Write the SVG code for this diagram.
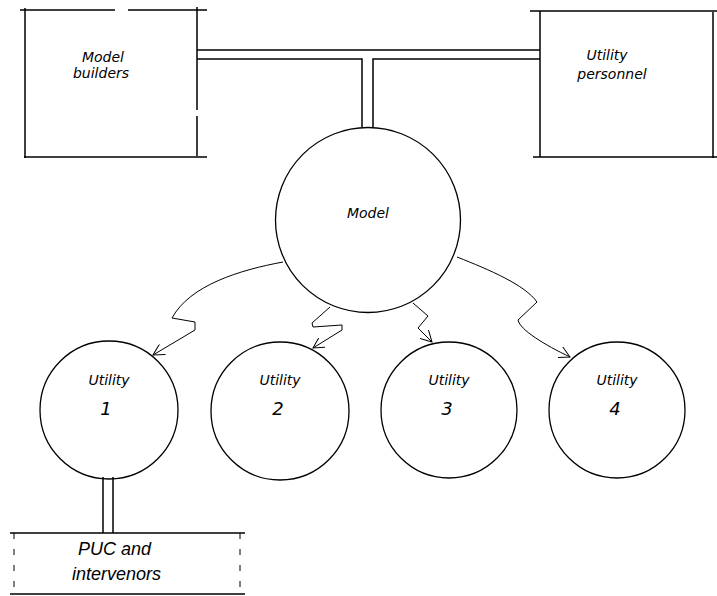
<svg xmlns="http://www.w3.org/2000/svg" width="717" height="596" viewBox="0 0 717 596">
<style>
.ln{fill:none;stroke:#000;stroke-width:1.5}
.cir{fill:none;stroke:#000;stroke-width:1.3}
.thin{fill:none;stroke:#000;stroke-width:1}
.hand{font-family:"DejaVu Sans","Liberation Sans",sans-serif;font-style:italic;font-size:14px;fill:#000;text-anchor:middle}
.puc{font-family:"Liberation Sans",sans-serif;font-style:italic;font-size:18px;fill:#000}
</style>
<defs>
<marker id="ah" viewBox="0 0 12 12" refX="11" refY="6" markerWidth="12" markerHeight="12" markerUnits="userSpaceOnUse" orient="auto">
<path d="M0,0 L11,6 L0,12" fill="none" stroke="#000" stroke-width="1"/>
</marker>
</defs>
<rect width="717" height="596" fill="#fff"/>
<g id="connectors">
<path class="ln" d="M197,50 H540"/>
<path class="ln" d="M197,59 H362 V127"/>
<path class="ln" d="M540,59 H373 V127"/>
<path class="ln" d="M103,477 V533 M113,477 V533"/>
<path class="thin" marker-end="url(#ah)" d="M283,262 C240,270 190,285 172,318 L195,322 L195,330 L153,355"/>
<path class="thin" marker-end="url(#ah)" d="M330,307 L312,323 L313,327 L342,325 L342,330 L313,348"/>
<path class="thin" marker-end="url(#ah)" d="M413,303 L428,316 L418,328 L432,342"/>
<path class="thin" marker-end="url(#ah)" d="M457,257 C490,270 525,285 537,302 L518,320 C520,330 545,345 570,357"/>
</g>
<g id="model-builders">
<path class="ln" d="M20,10 H115 M128,10 H207 M25,8 V158 M197,7 V110 M197,116 V156 M24,157 H207"/>
<text class="hand" x="103" y="62">Model</text>
<text class="hand" x="101" y="78">builders</text>
</g>
<g id="utility-personnel">
<path class="ln" d="M530,11 H717 M540,11 V157 M713,12 V158 M533,157 H717"/>
<text class="hand" x="607" y="60">Utility</text>
<text class="hand" x="612" y="79">personnel</text>
</g>
<g id="model">
<circle class="cir" cx="368" cy="220" r="92.5"/>
<text class="hand" x="368" y="218">Model</text>
</g>
<g id="utility-1">
<circle class="cir" cx="109" cy="410" r="69"/>
<text class="hand" x="109" y="385">Utility</text>
<text class="hand" x="106" y="415" style="font-size:18px">1</text>
</g>
<g id="utility-2">
<circle class="cir" cx="280" cy="411" r="69"/>
<text class="hand" x="280" y="385">Utility</text>
<text class="hand" x="278" y="415" style="font-size:18px">2</text>
</g>
<g id="utility-3">
<circle class="cir" cx="449" cy="410" r="68"/>
<text class="hand" x="449" y="385">Utility</text>
<text class="hand" x="447" y="415" style="font-size:18px">3</text>
</g>
<g id="utility-4">
<circle class="cir" cx="617" cy="410" r="68"/>
<text class="hand" x="617" y="385">Utility</text>
<text class="hand" x="615" y="415" style="font-size:18px">4</text>
</g>
<g id="puc">
<path class="ln" d="M10,533 H245 M10,594 H245"/>
<path class="thin" stroke-dasharray="6,10" d="M14,533 V594 M240,533 V594"/>
<text class="puc" x="78" y="555">PUC and</text>
<text class="puc" x="72" y="580">intervenors</text>
</g>
</svg>
